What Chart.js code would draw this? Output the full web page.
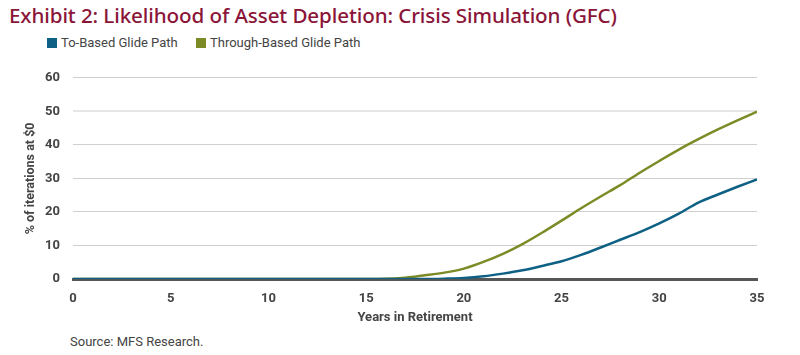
<!DOCTYPE html>
<html><head><meta charset="utf-8">
<script src="https://cdn.jsdelivr.net/npm/chart.js@4.4.0/dist/chart.umd.min.js"></script>
<style>
html,body{margin:0;padding:0;background:#fff;width:800px;height:355px;overflow:hidden;font-family:Roboto,sans-serif}
#title{position:absolute;left:9px;top:1px;font-family:"Noto Sans",sans-serif;font-size:20.6px;font-weight:500;color:#8a1538;white-space:nowrap;letter-spacing:-0.1px}
.leg{position:absolute;top:35px;font-family:Roboto,sans-serif;font-size:13px;color:#444;white-space:nowrap}
.leg span{display:inline-block;width:10px;height:10px;margin-right:4px;vertical-align:-1px}
#src{position:absolute;left:70px;top:334px;font-family:Roboto,sans-serif;font-size:13px;color:#444;white-space:nowrap}
#wrap{position:absolute;left:0;top:57px;width:800px;height:273px}
</style></head>
<body>
<div id="title">Exhibit 2: Likelihood of Asset Depletion: Crisis Simulation (GFC)</div>
<div class="leg" style="left:47px"><span style="background:#0e6184"></span>To-Based Glide Path</div>
<div class="leg" style="left:196px"><span style="background:#7d8b26"></span>Through-Based Glide Path</div>
<div id="wrap"><canvas id="c"></canvas></div>
<div id="src">Source: MFS Research.</div>
<script>
const years = [0,1,2,3,4,5,6,7,8,9,10,11,12,13,14,15,16,17,18,19,20,21,22,23,24,25,26,27,28,29,30,31,32,33,34,35];
const toBased = [0,0,0,0,0,0,0,0,0,0,0,0,0,0,0,0,0,0,0,0.1,0.3,0.8,1.6,2.6,3.9,5.3,7.2,9.4,11.7,14.0,16.6,19.5,22.8,25.2,27.5,29.7];
const throughBased = [0,0,0,0,0,0,0,0,0,0,0,0,0,0,0,0,0.05,0.4,1.1,1.9,3.1,5.1,7.5,10.4,13.8,17.4,21.1,24.6,28.0,31.7,35.2,38.6,41.7,44.6,47.3,49.9];
const yTicks = [0,10,20,30,40,50,60];
const xTicks = [0,5,10,15,20,25,30,35];

const tickFont = {family:"Roboto,sans-serif", size:13, weight:'bold'};
const pts = arr => years.map((x,i)=>({x:x,y:arr[i]}));

new Chart(document.getElementById('c'), {
  type:'line',
  data:{datasets:[
    {label:'To-Based Glide Path', data:pts(toBased), borderColor:'#0e6184', borderWidth:2.5, pointRadius:0, cubicInterpolationMode:'monotone'},
    {label:'Through-Based Glide Path', data:pts(throughBased), borderColor:'#7d8b26', borderWidth:2.5, pointRadius:0, cubicInterpolationMode:'monotone'}
  ]},
  options:{
    responsive:true, maintainAspectRatio:false, animation:false,
    layout:{padding:{top:14,right:43,left:0,bottom:0}},
    plugins:{legend:{display:false}, tooltip:{enabled:false}},
    scales:{
      x:{type:'linear', min:0, max:35,
        afterBuildTicks: s=>{ s.ticks = xTicks.map(v=>({value:v})); },
        afterFit: s=>{ s.height = 51; },
        grid:{display:false, drawTicks:false},
        border:{display:true, color:'#555', width:3},
        ticks:{color:'#444', font:tickFont, padding:12, maxRotation:0},
        title:{display:true, text:'Years in Retirement', color:'#444', font:tickFont, padding:{top:3}}
      },
      y:{min:0, max:60,
        afterBuildTicks: s=>{ s.ticks = yTicks.map(v=>({value:v})); },
        afterFit: s=>{ s.width = 73; },
        grid:{color: c => c.tick && c.tick.value===50 ? '#e6e6e6' : '#cfcfcf', lineWidth: c => c.tick && c.tick.value===50 ? 2 : 1, drawTicks:false},
        border:{display:false},
        ticks:{color:'#444', font:tickFont, padding:13},
        title:{display:true, text:'% of iterations at $0', color:'#444', font:{family:tickFont.family,size:12.5,weight:'bold'}, padding:{top:23,bottom:0}}
      }
    }
  }
});
</script>
</body></html>
